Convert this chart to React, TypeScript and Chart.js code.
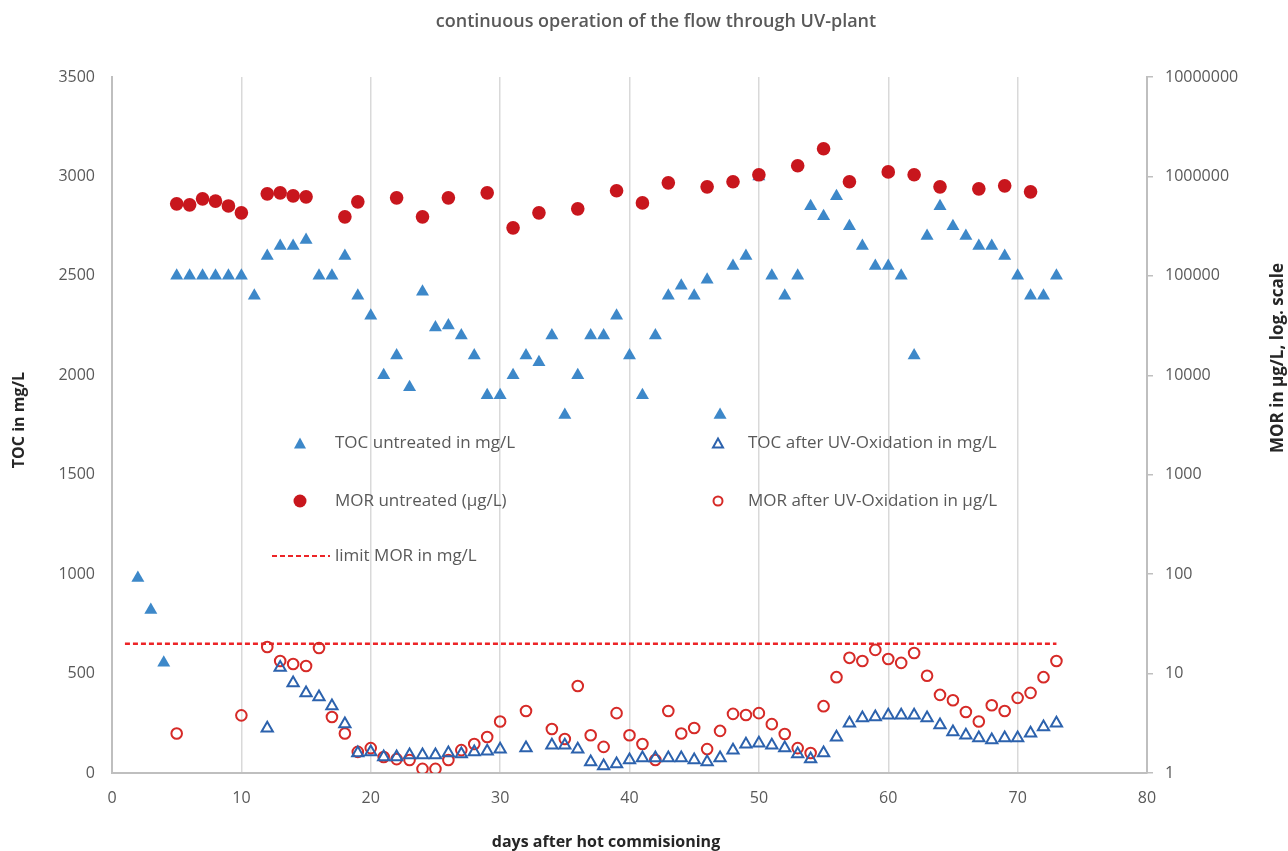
import React, { useEffect, useRef } from 'react';
import { Chart, registerables } from 'chart.js';

Chart.register(...registerables);

// ---- data ----
const tocUntreatedDays = [2, 3, 4, 5, 6, 7, 8, 9, 10, 11, 12, 13, 14, 15, 16, 17, 18, 19, 20, 21, 22, 23, 24, 25, 26, 27, 28, 29, 30, 31, 32, 33, 34, 35, 36, 37, 38, 39, 40, 41, 42, 43, 44, 45, 46, 47, 48, 49, 50, 51, 52, 53, 54, 55, 56, 57, 58, 59, 60, 61, 62, 63, 64, 65, 66, 67, 68, 69, 70, 71, 72, 73];
const tocUntreated = [980, 820, 555, 2500, 2500, 2500, 2500, 2500, 2500, 2400, 2600, 2650, 2650, 2680, 2500, 2500, 2600, 2400, 2300, 2000, 2100, 1940, 2420, 2240, 2250, 2200, 2100, 1900, 1900, 2000, 2100, 2065, 2200, 1800, 2000, 2200, 2200, 2300, 2100, 1900, 2200, 2400, 2450, 2400, 2480, 1800, 2550, 2600, 3000, 2500, 2400, 2500, 2850, 2800, 2900, 2750, 2650, 2550, 2550, 2500, 2100, 2700, 2850, 2750, 2700, 2650, 2650, 2600, 2500, 2400, 2400, 2500];

const tocAfterDays = [12, 13, 14, 15, 16, 17, 18, 19, 20, 21, 22, 23, 24, 25, 26, 27, 28, 29, 30, 32, 34, 35, 36, 37, 38, 39, 40, 41, 42, 43, 44, 45, 46, 47, 48, 49, 50, 51, 52, 53, 54, 55, 56, 57, 58, 59, 60, 61, 62, 63, 64, 65, 66, 67, 68, 69, 70, 71, 72, 73];
const tocAfter = [225, 530, 452, 402, 382, 337, 246, 100, 106, 80, 80, 90, 90, 90, 100, 95, 105, 110, 120, 126, 140, 140, 120, 55, 35, 45, 65, 75, 75, 75, 75, 65, 55, 75, 115, 145, 150, 140, 126, 95, 70, 100, 180, 250, 276, 282, 290, 290, 290, 276, 241, 206, 190, 176, 166, 176, 176, 200, 231, 250];

const morUntreatedDays = [5, 6, 7, 8, 9, 10, 12, 13, 14, 15, 18, 19, 22, 24, 26, 29, 31, 33, 36, 39, 41, 43, 46, 48, 50, 53, 55, 57, 60, 62, 64, 67, 69, 71];
const morUntreated = [530000, 518000, 595000, 565000, 505000, 430000, 668000, 684000, 638000, 623000, 392000, 555000, 609000, 392000, 609000, 684000, 304000, 430000, 472000, 717000, 542000, 862000, 786000, 883000, 1038000, 1280000, 1900000, 883000, 1110000, 1040000, 786000, 750000, 804000, 700000];

const morAfterDays = [5, 10, 12, 13, 14, 15, 16, 17, 18, 19, 20, 21, 22, 23, 24, 25, 26, 27, 28, 29, 30, 32, 34, 35, 36, 37, 38, 39, 40, 41, 42, 43, 44, 45, 46, 47, 48, 49, 50, 51, 52, 53, 54, 55, 56, 57, 58, 59, 60, 61, 62, 63, 64, 65, 66, 67, 68, 69, 70, 71, 72, 73];
const morAfter = [2.5, 3.8, 18.5, 13.4, 12.5, 11.9, 18.1, 3.66, 2.5, 1.63, 1.78, 1.45, 1.38, 1.35, 1.1, 1.1, 1.35, 1.7, 1.96, 2.3, 3.3, 4.2, 2.77, 2.2, 7.5, 2.4, 1.83, 4.0, 2.4, 1.96, 1.35, 4.2, 2.5, 2.84, 1.74, 2.65, 3.93, 3.83, 4.0, 3.1, 2.47, 1.78, 1.59, 4.7, 9.2, 14.4, 13.4, 17.3, 14.0, 12.8, 16.1, 9.5, 6.1, 5.4, 4.1, 3.3, 4.8, 4.2, 5.7, 6.4, 9.2, 13.4];

const limitDays = [1, 73];
const limitValue = [20, 20];

const xTicks = [0, 10, 20, 30, 40, 50, 60, 70, 80];
const leftTicks = [0, 500, 1000, 1500, 2000, 2500, 3000, 3500];
const rightTicks = [1, 10, 100, 1000, 10000, 100000, 1000000, 10000000];

const labels = {
  title: 'continuous operation of the flow through UV-plant',
  xTitle: 'days after hot commisioning',
  yTitle: 'TOC in mg/L',
  y2Title: 'MOR in µg/L, log. scale',
  tocUntreated: 'TOC untreated in mg/L',
  tocAfter: 'TOC after UV-Oxidation in mg/L',
  morUntreated: 'MOR untreated (µg/L)',
  morAfter: 'MOR after UV-Oxidation in µg/L',
  limit: 'limit MOR in mg/L',
};

const C = {
  triFill: '#3d88c9',
  triOpen: '#2c62ad',
  redFill: '#c8161d',
  redOpen: '#d62a27',
  limit: '#ec2427',
  text: '#595959',
  dark: '#262626',
  grid: '#d9d9d9',
  axis: '#bfbfbf',
};

const FONT = '"Open Sans", "Noto Sans", sans-serif';

const toXY = (xs: number[], ys: number[]) => xs.map((x, i) => ({ x, y: ys[i] }));

function triPath(ctx: CanvasRenderingContext2D, x: number, y: number, w: number) {
  const h = w * 0.9;
  ctx.beginPath();
  ctx.moveTo(x, y - h / 2);
  ctx.lineTo(x + w / 2, y + h / 2);
  ctx.lineTo(x - w / 2, y + h / 2);
  ctx.closePath();
}

const overlay = {
  id: 'overlay',
  afterDraw(chart: any) {
    const ctx: CanvasRenderingContext2D = chart.ctx;
    ctx.save();
    // title
    ctx.fillStyle = C.text;
    ctx.textAlign = 'center';
    ctx.textBaseline = 'middle';
    ctx.font = `600 18px ${FONT}`;
    ctx.fillText(labels.title, 656, 22);
    // axis titles
    ctx.fillStyle = C.dark;
    ctx.font = `bold 16px ${FONT}`;
    ctx.fillText(labels.xTitle, 606, 842);
    ctx.save();
    ctx.translate(19, 420);
    ctx.rotate(-Math.PI / 2);
    ctx.fillText(labels.yTitle, 0, 0);
    ctx.restore();
    ctx.save();
    ctx.translate(1278, 358);
    ctx.rotate(-Math.PI / 2);
    ctx.font = `bold 17px ${FONT}`;
    ctx.fillText(labels.y2Title, 0, 0);
    ctx.restore();

    // legend
    ctx.font = `17px ${FONT}`;
    ctx.fillStyle = C.text;
    ctx.textAlign = 'left';
    const r1 = 443, r2 = 501, r3 = 556;
    const c1m = 300, c1t = 335, c2m = 718, c2t = 748;
    ctx.fillText(labels.tocUntreated, c1t, r1);
    ctx.fillText(labels.tocAfter, c2t, r1);
    ctx.fillText(labels.morUntreated, c1t, r2);
    ctx.fillText(labels.morAfter, c2t, r2);
    ctx.fillText(labels.limit, c1t, r3);

    ctx.fillStyle = C.triFill;
    triPath(ctx, c1m, r1, 12);
    ctx.fill();
    ctx.strokeStyle = C.triOpen;
    ctx.lineWidth = 2;
    triPath(ctx, c2m, r1, 10);
    ctx.stroke();
    ctx.fillStyle = C.redFill;
    ctx.beginPath();
    ctx.arc(c1m, r2, 6.5, 0, Math.PI * 2);
    ctx.fill();
    ctx.strokeStyle = C.redOpen;
    ctx.beginPath();
    ctx.arc(c2m, r2, 4.5, 0, Math.PI * 2);
    ctx.stroke();
    ctx.strokeStyle = C.limit;
    ctx.setLineDash([5, 3]);
    ctx.beginPath();
    ctx.moveTo(272, r3);
    ctx.lineTo(330, r3);
    ctx.stroke();
    ctx.restore();
  },
};

export default function App() {
  const ref = useRef<HTMLCanvasElement>(null);
  useEffect(() => {
    const chart = new Chart(ref.current as HTMLCanvasElement, {
      type: 'scatter',
      data: {
        datasets: [
          {
            label: labels.limit,
            type: 'line',
            data: toXY(limitDays, limitValue),
            yAxisID: 'y2',
            borderColor: C.limit,
            borderWidth: 2.5,
            borderDash: [5, 3],
            pointRadius: 0,
            showLine: true,
            order: 5,
          } as any,
          {
            label: labels.tocUntreated,
            data: toXY(tocUntreatedDays, tocUntreated),
            yAxisID: 'y',
            pointStyle: 'triangle',
            pointRadius: 7.5,
            backgroundColor: C.triFill,
            borderColor: C.triFill,
            borderWidth: 0,
            order: 4,
          },
          {
            label: labels.morUntreated,
            data: toXY(morUntreatedDays, morUntreated),
            yAxisID: 'y2',
            pointStyle: 'circle',
            pointRadius: 6.8,
            backgroundColor: C.redFill,
            borderColor: C.redFill,
            borderWidth: 0,
            order: 3,
          },
          {
            label: labels.morAfter,
            data: toXY(morAfterDays, morAfter),
            yAxisID: 'y2',
            pointStyle: 'circle',
            pointRadius: 5.3,
            backgroundColor: 'rgba(0,0,0,0)',
            borderColor: C.redOpen,
            borderWidth: 2,
            order: 2,
          },
          {
            label: labels.tocAfter,
            data: toXY(tocAfterDays, tocAfter),
            yAxisID: 'y',
            pointStyle: 'triangle',
            pointRadius: 6.5,
            backgroundColor: 'rgba(0,0,0,0)',
            borderColor: C.triOpen,
            borderWidth: 2,
            order: 1,
          },
        ],
      },
      options: {
        responsive: false,
        animation: false,
        devicePixelRatio: 1,
        layout: { padding: { top: 77, left: 0, right: 0, bottom: 0 } },
        plugins: {
          legend: { display: false },
          tooltip: { enabled: false },
          title: { display: false },
        },
        scales: {
          x: {
            type: 'linear',
            position: 'bottom',
            min: 0,
            max: 80,
            afterBuildTicks: (s: any) => { s.ticks = xTicks.map((v) => ({ value: v })); },
            afterFit: (s: any) => { s.height = 78; },
            grid: { color: C.grid, lineWidth: 1.5, drawTicks: false },
            border: { display: true, color: C.axis, width: 2 },
            ticks: { color: C.text, font: { family: FONT, size: 16 }, padding: 16, callback: (v: any) => String(v) },
          },
          y: {
            type: 'linear',
            position: 'left',
            min: 0,
            max: 3500,
            afterBuildTicks: (s: any) => { s.ticks = leftTicks.map((v) => ({ value: v })); },
            afterFit: (s: any) => { s.width = 112; },
            grid: { display: false, drawTicks: false },
            border: { display: true, color: C.axis, width: 2 },
            ticks: { color: C.text, font: { family: FONT, size: 16 }, padding: 17, callback: (v: any) => String(v) },
          },
          y2: {
            type: 'logarithmic',
            position: 'right',
            min: 1,
            max: 10000000,
            afterBuildTicks: (s: any) => { s.ticks = rightTicks.map((v) => ({ value: v })); },
            afterFit: (s: any) => { s.width = 141; },
            grid: { drawOnChartArea: false, drawTicks: true, tickLength: 6, color: C.axis, lineWidth: 1.5 },
            border: { display: true, color: C.axis, width: 2 },
            ticks: {
              color: C.text,
              font: { family: FONT, size: 16 },
              padding: 12,
              callback: (v: any) => String(v),
            },
          },
        },
      } as any,
      plugins: [overlay],
    });
    return () => chart.destroy();
  }, []);
  return (
    <div style={{ position: 'absolute', left: 0, top: 0, width: 1288, height: 851, background: '#ffffff' }}>
      <canvas ref={ref} width={1288} height={851} style={{ display: 'block' }} />
    </div>
  );
}
